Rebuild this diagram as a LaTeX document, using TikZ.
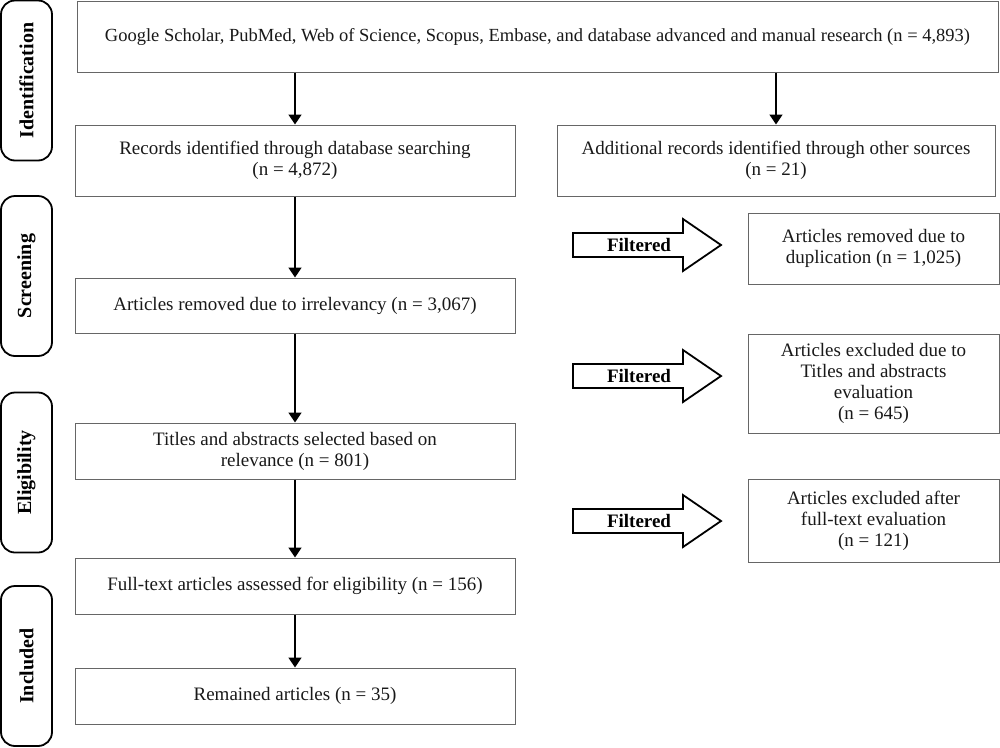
\documentclass[tikz,border=0pt]{standalone}
\usepackage{fontspec}
\setmainfont{Liberation Serif}
\usetikzlibrary{arrows.meta}
\begin{document}
\begin{tikzpicture}[x=1pt,y=-1pt,
  box/.style={draw=black!60, line width=1pt, fill=white, align=center, inner sep=2pt,
    text=black!90, font=\fontsize{19}{21}\selectfont},
  side/.style={draw=black, line width=1.8pt, rounded corners=14pt, rotate=90,
    minimum width=160pt, minimum height=51pt, inner sep=0pt,
    font=\bfseries\fontsize{20}{22}\selectfont},
  arr/.style={line width=1.5pt, -{Triangle[width=13pt,length=10pt]}},
  farrow/.style={draw=black, line width=1.8pt, line join=miter},
  ftext/.style={font=\bfseries\fontsize{19}{21}\selectfont, inner sep=0pt}]
\useasboundingbox (0,0) rectangle (1000,747);
% side labels
\node[side] (sid) at (26.5,80.5) {Identification};
\node[side] (sscr) at (26.5,276) {Screening};
\node[side] (seli) at (26.5,472.5) {Eligibility};
\node[side] (sinc) at (26.5,666) {Included};
% main boxes
\node[box, minimum width=921pt, minimum height=71pt, font=\fontsize{18.5}{21}\selectfont] (top) at (537.5,36.5)
  {Google Scholar, PubMed, Web of Science, Scopus, Embase, and database advanced and manual research (n = 4,893)};
\node[box, minimum width=440pt, minimum height=71pt] (rec) at (295,160.5)
  {Records identified through database searching\\(n = 4,872)};
\node[box, minimum width=438pt, minimum height=71pt] (add) at (776,160.5)
  {Additional records identified through other sources\\(n = 21)};
\node[box, minimum width=440pt, minimum height=55pt] (irr) at (295,305.5)
  {Articles removed due to irrelevancy (n = 3,067)};
\node[box, minimum width=440pt, minimum height=56pt] (tit) at (295,451)
  {Titles and abstracts selected based on\\relevance (n = 801)};
\node[box, minimum width=440pt, minimum height=56pt] (ful) at (295,586)
  {Full-text articles assessed for eligibility (n = 156)};
\node[box, minimum width=440pt, minimum height=56pt] (rem) at (295,696)
  {Remained articles (n = 35)};
% right boxes
\node[box, minimum width=251pt, minimum height=71pt] (dup) at (873.5,248.5)
  {Articles removed due to\\duplication (n = 1,025)};
\node[box, minimum width=251pt, minimum height=99pt] (exa) at (873.5,383.5)
  {Articles excluded due to\\Titles and abstracts\\evaluation\\(n = 645)};
\node[box, minimum width=251pt, minimum height=83pt] (exf) at (873.5,520.5)
  {Articles excluded after\\full-text evaluation\\(n = 121)};
% vertical arrows
\draw[arr] (top.south -| rec) -- (rec.north);
\draw[arr] (top.south -| add) -- (add.north);
\draw[arr] (rec.south) -- (irr.north);
\draw[arr] (irr.south) -- (tit.north);
\draw[arr] (tit.south) -- (ful.north);
\draw[arr] (ful.south) -- (rem.north);
% filtered arrows
\draw[farrow] (573,233) -- (683,233) -- (683,219) -- (721,245) -- (683,271) -- (683,257) -- (573,257) -- cycle;
\node[ftext] (fa) at (639,245) {Filtered};
\draw[farrow] (573,364) -- (683,364) -- (683,350) -- (721,376) -- (683,402) -- (683,388) -- (573,388) -- cycle;
\node[ftext] (fb) at (639,376) {Filtered};
\draw[farrow] (573,509) -- (683,509) -- (683,495) -- (721,521) -- (683,547) -- (683,533) -- (573,533) -- cycle;
\node[ftext] (fc) at (639,521) {Filtered};
\end{tikzpicture}
\end{document}
